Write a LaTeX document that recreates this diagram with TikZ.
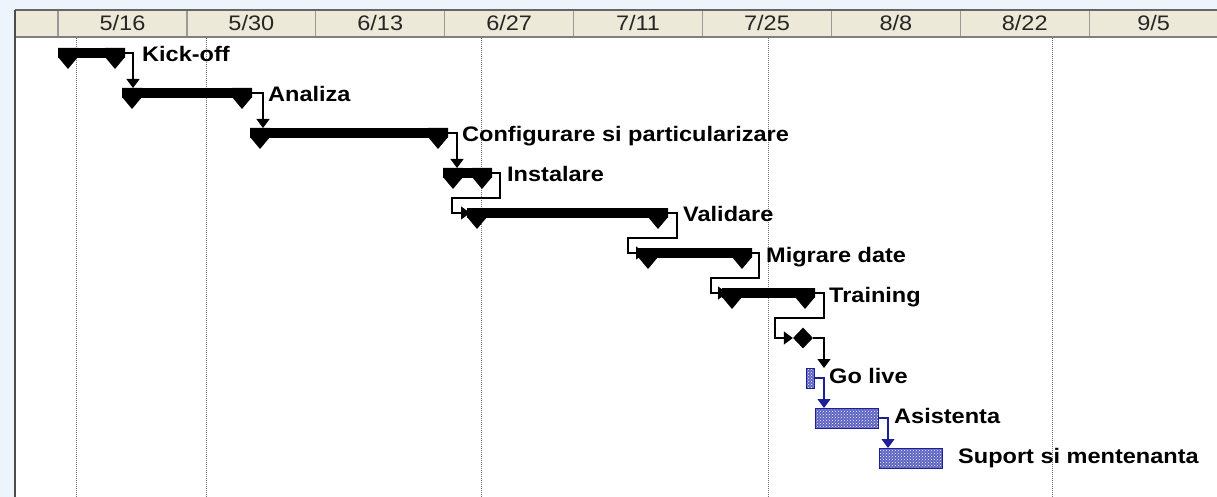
\documentclass[tikz,border=0pt]{standalone}
\usepackage{fontspec}
\setmainfont{Liberation Sans}
\newfontfamily\chartfont[FakeStretch=1.12]{Liberation Sans}
\usetikzlibrary{arrows.meta,shapes.geometric,patterns}

\definecolor{bgblue}{HTML}{EEF4FC}
\definecolor{hdrfill}{HTML}{ECE9D8}
\definecolor{taskblue}{HTML}{1E1E96}
\definecolor{hatchblue}{HTML}{5C62C2}

% end caps of a summary bar
\newcommand{\sumcaps}[1]{%
  \fill (#1.north west) -- ++(20,0) -- ++(0,9) -- ++(-10,12) -- ++(-10,-12) -- cycle;
  \fill (#1.north east) -- ++(-20,0) -- ++(0,9) -- ++(10,12) -- ++(10,-12) -- cycle;}

\begin{document}
\begin{tikzpicture}[x=1pt, y=-1pt,
    sumbar/.style={fill=black, inner sep=0pt, outer sep=0pt, minimum height=10pt},
    taskbar/.style={draw=taskblue, line width=1pt, preaction={fill=hatchblue},
      pattern=crosshatch dots, pattern color=white, inner sep=0pt, outer sep=0pt,
      minimum height=20pt},
    lbl/.style={anchor=base west, inner sep=0pt, font=\chartfont\fontsize{21}{24}\selectfont\bfseries},
    hdr/.style={inner sep=0pt, font=\chartfont\fontsize{21}{24}\selectfont, text=black!85},
    dep/.style={line width=1.3pt, -{Triangle[length=9pt,width=13pt]}},
    bluedep/.style={dep, draw=taskblue, -{Triangle[length=9pt,width=13pt,fill=taskblue]}}]
    \useasboundingbox (0,0) rectangle (1217,497);
    % Background and chart area
    \fill[bgblue] (0,0) rectangle (1217,497);
    \fill[white] (15,10) rectangle (1217,497);
    \fill[hdrfill] (15,10) rectangle (1217,37);

    % Timescale
    \foreach \m/\d [count=\i from 0] in {5/16,5/30,6/13,6/27,7/11,7/25,8/8,8/22,9/5} {
        \draw[black!40, line width=1.2pt] ({58+128.9*\i},10) -- ({58+128.9*\i},37);
        \node[hdr] (h\i) at ({58+128.9*(\i+0.5)},23) {\m/\d};
    }
    \draw[black!60, line width=2pt] (15,10) -- (1217,10);
    \draw[black!50, line width=2pt] (15,37) -- (1217,37);
    \draw[black!70, line width=2pt] (15,10) -- (15,497);

    % Dotted grid lines
    \foreach \x in {76,206,481,768,1052}
        \draw[black!55, line width=1pt, dash pattern=on 1pt off 1pt] (\x,38) -- (\x,497);

    % Summary bars
    \node[sumbar, minimum width=67pt]  (kick)  at (91.5,53) {};
    \node[sumbar, minimum width=130pt] (ana)   at (187,93) {};
    \node[sumbar, minimum width=198pt] (conf)  at (349,133) {};
    \node[sumbar, minimum width=49pt]  (inst)  at (467.5,173) {};
    \node[sumbar, minimum width=201pt] (val)   at (567.5,213) {};
    \node[sumbar, minimum width=114pt] (mig)   at (695,253) {};
    \node[sumbar, minimum width=93pt]  (train) at (768.5,293) {};
    \foreach \b in {kick,ana,conf,inst,val,mig,train}
        \sumcaps{\b};

    % Milestone
    \node[diamond, fill=black, inner sep=0pt, minimum width=20pt, minimum height=21pt] (golm) at (803,338) {};

    % Task bars
    \node[taskbar, minimum width=8pt]  (gobar) at (810,378) {};
    \node[taskbar, minimum width=63pt] (asist) at (846.5,418) {};
    \node[taskbar, minimum width=63pt] (sup)   at (910.5,458) {};

    % Labels
    \node[lbl] (kicklbl)  at (142,62)  {Kick-off};
    \node[lbl] (analbl)   at (268,102) {Analiza};
    \node[lbl] (conflbl)  at (462,142) {Configurare si particularizare};
    \node[lbl] (instlbl)  at (507,182) {Instalare};
    \node[lbl] (vallbl)   at (683,222) {Validare};
    \node[lbl] (miglbl)   at (766,262) {Migrare date};
    \node[lbl] (trainlbl) at (829,302) {Training};
    \node[lbl] (golbl)    at (829,383) {Go live};
    \node[lbl] (asistlbl) at (894,423) {Asistenta};
    \node[lbl] (suplbl)   at (958,463) {Suport si mentenanta};

    % Links
    \draw[dep] (kick.east) -| ([xshift=11]ana.north west);
    \draw[dep] (ana.east) -| ([xshift=13]conf.north west);
    \draw[dep] (conf.east) -| ([xshift=14]inst.north west);
    \draw[dep] (inst.east) -- ++(8,0) -- ++(0,25) -- ++(-48,0) |- ([xshift=3]val.west);
    \draw[dep] (val.east) -- ++(9,0) -- ++(0,25) -- ++(-49,0) |- ([xshift=7]mig.west);
    \draw[dep] (mig.east) -- ++(7,0) -- ++(0,25) -- ++(-48,0) |- ([xshift=5]train.west);
    \draw[dep] (train.east) -- ++(9,0) -- ++(0,25) -- ++(-49,0) |- (golm.west);
    \draw[dep] (golm.east) -| ([xshift=10]gobar.north east);
    \draw[bluedep] (gobar.east) -| ([xshift=9]asist.north west);
    \draw[bluedep] (asist.east) -| ([xshift=9]sup.north west);
\end{tikzpicture}
\end{document}
